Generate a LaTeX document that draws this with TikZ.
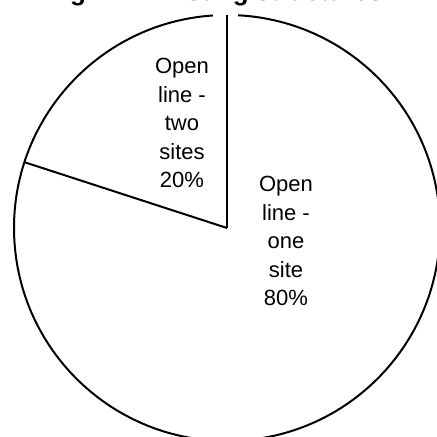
\documentclass[tikz,border=0pt]{standalone}
\usepackage{fontspec}
\setmainfont{Liberation Sans}
\usetikzlibrary{calc}
\begin{document}
\begin{tikzpicture}[x=1pt,y=1pt,
  slice/.style={draw=black,line width=2pt},
  lbl/.style={align=center,inner sep=0pt,font=\fontsize{22}{28.5}\selectfont},
  ttl/.style={anchor=base,inner sep=0pt,font=\bfseries\fontsize{26}{30}\selectfont}]
\useasboundingbox (0,0) rectangle (437,437);
\clip (0,0) rectangle (437,437);
\fill[white] (0,0) rectangle (437,437);
\coordinate (c) at (227,209);
\coordinate (top) at ($(c)+(90:213)$);
\coordinate (left) at ($(c)+(162:213)$);
\coordinate (gapL) at ($(c)+(93.8:213)$);
\node[ttl] (title) at (215,436) {Fig 7.1: Existing structures};
\draw[slice] (gapL) arc[start angle=93.8,end angle=447,radius=213];
\draw[slice] (c) -- (top);
\draw[slice] (c) -- (left);
\node[lbl] (two) at (182,314) {Open\\line -\\two\\sites\\20\%};
\node[lbl] (one) at (286,196) {Open\\line -\\one\\site\\80\%};
\end{tikzpicture}
\end{document}
